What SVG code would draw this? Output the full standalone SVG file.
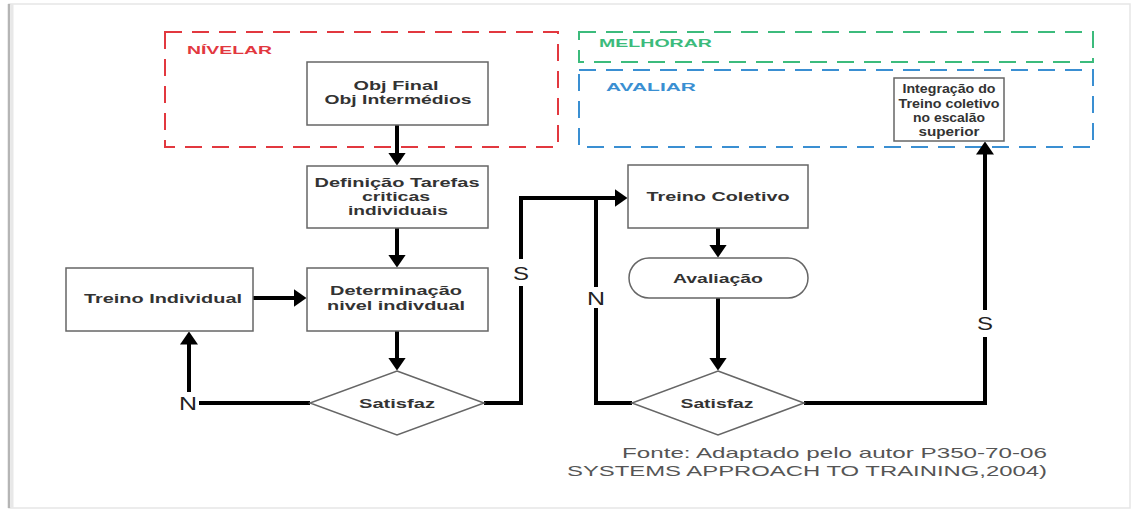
<svg xmlns="http://www.w3.org/2000/svg" width="1134" height="510" viewBox="0 0 1134 510">
<defs>
<marker id="ah" markerUnits="userSpaceOnUse" viewBox="0 0 13 18" markerWidth="13" markerHeight="18" refX="0.5" refY="9" orient="auto">
<path d="M0,0 L13,9 L0,18 z" fill="#000"/>
</marker>
<style>
.node{fill:#fff;stroke:#666;stroke-width:1.5}
.t{font-family:"Liberation Sans",Arial,sans-serif;font-weight:bold;font-size:12px;fill:#333;text-anchor:middle}
.ti{font-family:"Liberation Sans",Arial,sans-serif;font-weight:bold;font-size:12.5px;fill:#333;text-anchor:middle}
.c{fill:none;stroke:#000;stroke-width:4}
.lab{font-family:"Liberation Sans",Arial,sans-serif;font-size:18px;fill:#222;text-anchor:middle}
.zone{fill:none;stroke-width:2;stroke-dasharray:17 10}
.zt{font-family:"Liberation Sans",Arial,sans-serif;font-weight:bold;font-size:11px}
.src{font-family:"Liberation Sans",Arial,sans-serif;font-size:15px;fill:#555}
</style>
</defs>
<rect width="1134" height="510" fill="#fff"/>
<g id="frame">
<rect x="9" y="4" width="1121" height="504" fill="none" stroke="#e6e6e6" stroke-width="1.5"/>
<line x1="9" y1="4" x2="9" y2="508" stroke="#b5b5b5" stroke-width="2.5"/>
<line x1="12" y1="4" x2="12" y2="508" stroke="#e8e8e8" stroke-width="3"/>
</g>
<g id="zones">
<rect x="165" y="32" width="393" height="115" class="zone" stroke="#e2383f"/>
<text x="187" y="54" class="zt" fill="#e2383f" textLength="85" lengthAdjust="spacingAndGlyphs">NÍVELAR</text>
<rect x="579" y="32" width="514" height="30" class="zone" stroke="#3cbb7c"/>
<text x="599" y="47" class="zt" fill="#3cbb7c" textLength="113" lengthAdjust="spacingAndGlyphs">MELHORAR</text>
<rect x="579" y="70" width="514" height="77" class="zone" stroke="#3a8fd2"/>
<text x="606" y="91" class="zt" fill="#3a8fd2" textLength="90" lengthAdjust="spacingAndGlyphs">AVALIAR</text>
</g>
<g id="connectors">
<path class="c" d="M397,125 V153" marker-end="url(#ah)"/>
<path class="c" d="M397,228 V255" marker-end="url(#ah)"/>
<path class="c" d="M253,298 H294" marker-end="url(#ah)"/>
<path class="c" d="M397,331 V358" marker-end="url(#ah)"/>
<path class="c" d="M310,403 H199"/>
<path class="c" d="M189,392 V344" marker-end="url(#ah)"/>
<path class="c" d="M484,403 H521 V198 H615" marker-end="url(#ah)"/>
<path class="c" d="M718,228 V245" marker-end="url(#ah)"/>
<path class="c" d="M718,298 V358" marker-end="url(#ah)"/>
<path class="c" d="M632,403 H596 V198"/>
<path class="c" d="M804,403 H985 V154" marker-end="url(#ah)"/>
<rect x="511" y="259" width="20" height="27" fill="#fff"/>
<text x="521" y="280" class="lab" textLength="16" lengthAdjust="spacingAndGlyphs">S</text>
<rect x="586" y="287" width="20" height="21" fill="#fff"/>
<text x="596" y="305" class="lab" textLength="18" lengthAdjust="spacingAndGlyphs">N</text>
<rect x="975" y="310" width="20" height="27" fill="#fff"/>
<text x="985" y="330" class="lab" textLength="16" lengthAdjust="spacingAndGlyphs">S</text>
<text x="188" y="410" class="lab" textLength="18" lengthAdjust="spacingAndGlyphs">N</text>
</g>
<g id="obj">
<rect class="node" x="307" y="62" width="181" height="63"/>
<text class="t" x="396" y="90" textLength="85" lengthAdjust="spacingAndGlyphs">Obj Final</text>
<text class="t" x="398" y="104" textLength="147" lengthAdjust="spacingAndGlyphs">Obj Intermédios</text>
</g>
<g id="definicao">
<rect class="node" x="307" y="166" width="181" height="62"/>
<text class="t" x="397" y="187" textLength="165" lengthAdjust="spacingAndGlyphs">Definição Tarefas</text>
<text class="t" x="396" y="201" textLength="68" lengthAdjust="spacingAndGlyphs">criticas</text>
<text class="t" x="398" y="215" textLength="100" lengthAdjust="spacingAndGlyphs">individuais</text>
</g>
<g id="determinacao">
<rect class="node" x="307" y="268" width="181" height="63"/>
<text class="t" x="396" y="295" textLength="132" lengthAdjust="spacingAndGlyphs">Determinação</text>
<text class="t" x="396" y="310" textLength="138" lengthAdjust="spacingAndGlyphs">nivel indivdual</text>
</g>
<g id="treino-individual">
<rect class="node" x="66" y="268" width="187" height="63"/>
<text class="t" x="163" y="303" textLength="158" lengthAdjust="spacingAndGlyphs">Treino Individual</text>
</g>
<g id="satisfaz1">
<polygon class="node" points="397,371 484,403 397,435 310,403"/>
<text class="t" x="397" y="408" textLength="76" lengthAdjust="spacingAndGlyphs">Satisfaz</text>
</g>
<g id="treino-coletivo">
<rect class="node" x="628" y="165" width="180" height="63"/>
<text class="t" x="718" y="201" textLength="143" lengthAdjust="spacingAndGlyphs">Treino Coletivo</text>
</g>
<g id="avaliacao">
<rect class="node" x="629" y="258" width="179" height="40" rx="20" ry="20"/>
<text class="t" x="718" y="283" textLength="90" lengthAdjust="spacingAndGlyphs">Avaliação</text>
</g>
<g id="satisfaz2">
<polygon class="node" points="718,371 804,403 718,435 632,403"/>
<text class="t" x="717" y="408" textLength="73" lengthAdjust="spacingAndGlyphs">Satisfaz</text>
</g>
<g id="integracao">
<rect class="node" x="894" y="78" width="110" height="63"/>
<text class="ti" x="949" y="93" textLength="93" lengthAdjust="spacingAndGlyphs">Integração do</text>
<text class="ti" x="949" y="108" textLength="101" lengthAdjust="spacingAndGlyphs">Treino coletivo</text>
<text class="ti" x="949" y="122" textLength="72" lengthAdjust="spacingAndGlyphs">no escalão</text>
<text class="ti" x="949" y="136" textLength="61" lengthAdjust="spacingAndGlyphs">superior</text>
</g>
<g id="fonte">
<text class="src" x="1047" y="458" text-anchor="end" textLength="425" lengthAdjust="spacingAndGlyphs">Fonte: Adaptado pelo autor P350-70-06</text>
<text class="src" x="1047" y="476" text-anchor="end" textLength="480" lengthAdjust="spacingAndGlyphs">SYSTEMS APPROACH TO TRAINING,2004)</text>
</g>
</svg>
